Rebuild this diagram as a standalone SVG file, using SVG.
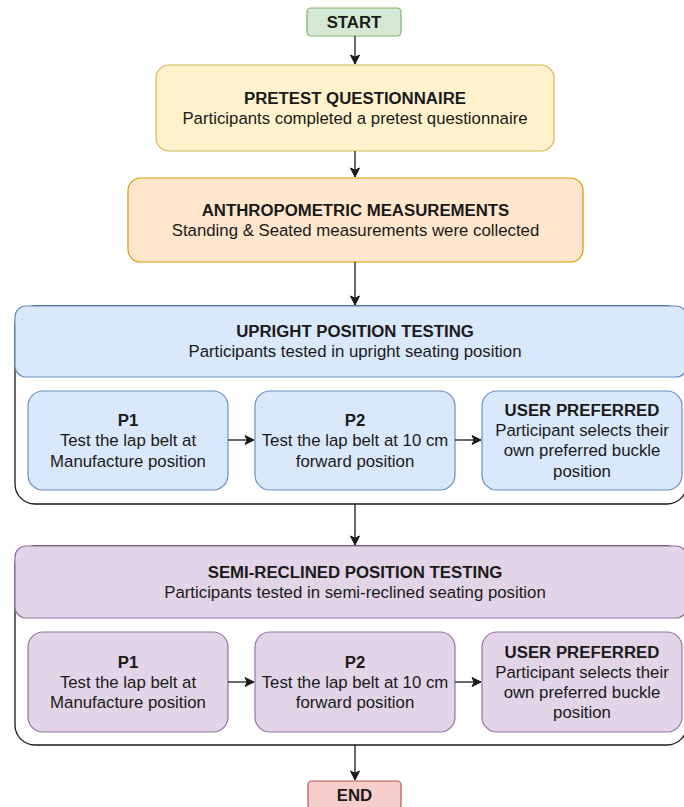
<svg xmlns="http://www.w3.org/2000/svg" width="684" height="807" viewBox="0 0 684 807">
<defs>
<marker id="arr" markerUnits="userSpaceOnUse" markerWidth="12" markerHeight="12" viewBox="0 0 12 12" refX="10" refY="6" orient="auto">
<path d="M1,1.5 L10,6 L1,10.5 L3.2,6 Z" fill="#1a1a1a" stroke="#1a1a1a" stroke-width="1"/>
</marker>
</defs>
<style>
text{font-family:"Liberation Sans",Arial,Helvetica,sans-serif;font-size:16.8px;fill:#1a1a1a;text-anchor:middle}
.b{font-weight:bold}
.c{stroke:#1a1a1a;stroke-width:1.3;fill:none;marker-end:url(#arr)}
.body{fill:#ffffff;stroke:#1a1a1a;stroke-width:1.3}
.blue{fill:#dae8fc;stroke:#6c8ebf;stroke-width:1.2}
.purple{fill:#e1d5e7;stroke:#9673a6;stroke-width:1.2}
</style>
<rect width="684" height="807" fill="#ffffff"/>

<g id="start">
<rect x="307" y="8" width="94" height="28" rx="4" fill="#d5e8d4" stroke="#82b366" stroke-width="1.2"/>
<text class="b" x="354" y="28">START</text>
</g>

<g id="pretest">
<rect x="156" y="65" width="398" height="86" rx="13" fill="#fff2cc" stroke="#d6b656" stroke-width="1.2"/>
<text class="b" x="355" y="103.7">PRETEST QUESTIONNAIRE</text>
<text x="355" y="123.9">Participants completed a pretest questionnaire</text>
</g>

<g id="anthro">
<rect x="128" y="178" width="455" height="84" rx="12.6" fill="#ffe6cc" stroke="#d79b00" stroke-width="1.2"/>
<text class="b" x="355.5" y="215.7">ANTHROPOMETRIC MEASUREMENTS</text>
<text x="355.5" y="235.9">Standing &amp; Seated measurements were collected</text>
</g>

<g id="upright">
<rect class="body" x="15" y="306" width="672" height="198" rx="20"/>
<rect class="blue" x="15" y="306" width="672" height="71" rx="11"/>
<text class="b" x="355" y="337.2">UPRIGHT POSITION TESTING</text>
<text x="355" y="357.4">Participants tested in upright seating position</text>
</g>

<g id="up-p1">
<rect class="blue" x="28" y="391" width="200" height="99" rx="15"/>
<text class="b" x="128" y="426.1">P1</text>
<text x="128" y="446.3">Test the lap belt at</text>
<text x="128" y="466.5">Manufacture position</text>
</g>

<g id="up-p2">
<rect class="blue" x="255" y="391" width="200" height="99" rx="15"/>
<text class="b" x="355" y="426.1">P2</text>
<text x="355" y="446.3">Test the lap belt at 10 cm</text>
<text x="355" y="466.5">forward position</text>
</g>

<g id="up-user">
<rect class="blue" x="482" y="391" width="200" height="99" rx="15"/>
<text class="b" x="582" y="416">USER PREFERRED</text>
<text x="582" y="436.2">Participant selects their</text>
<text x="582" y="456.4">own preferred buckle</text>
<text x="582" y="476.6">position</text>
</g>

<g id="semi">
<rect class="body" x="15" y="546" width="672" height="199" rx="20"/>
<rect class="purple" x="15" y="546" width="672" height="72" rx="11"/>
<text class="b" x="355" y="577.7">SEMI-RECLINED POSITION TESTING</text>
<text x="355" y="597.9">Participants tested in semi-reclined seating position</text>
</g>

<g id="semi-p1">
<rect class="purple" x="28" y="632" width="200" height="100" rx="15"/>
<text class="b" x="128" y="667.6">P1</text>
<text x="128" y="687.8">Test the lap belt at</text>
<text x="128" y="708">Manufacture position</text>
</g>

<g id="semi-p2">
<rect class="purple" x="255" y="632" width="200" height="100" rx="15"/>
<text class="b" x="355" y="667.6">P2</text>
<text x="355" y="687.8">Test the lap belt at 10 cm</text>
<text x="355" y="708">forward position</text>
</g>

<g id="semi-user">
<rect class="purple" x="482" y="632" width="200" height="100" rx="15"/>
<text class="b" x="582" y="657.5">USER PREFERRED</text>
<text x="582" y="677.7">Participant selects their</text>
<text x="582" y="697.9">own preferred buckle</text>
<text x="582" y="718.1">position</text>
</g>

<g id="end">
<rect x="308" y="781" width="93" height="28" rx="4" fill="#f8cecc" stroke="#b85450" stroke-width="1.2"/>
<text class="b" x="354.5" y="801">END</text>
</g>

<g id="connectors">
<line class="c" x1="355" y1="36" x2="355" y2="64"/>
<line class="c" x1="355" y1="151" x2="355" y2="177"/>
<line class="c" x1="355" y1="262" x2="355" y2="305"/>
<line class="c" x1="355" y1="504" x2="355" y2="545"/>
<line class="c" x1="355" y1="745" x2="355" y2="780"/>
<line class="c" x1="228" y1="440" x2="254" y2="440"/>
<line class="c" x1="455" y1="440" x2="481" y2="440"/>
<line class="c" x1="228" y1="682" x2="254" y2="682"/>
<line class="c" x1="455" y1="682" x2="481" y2="682"/>
</g>
</svg>
